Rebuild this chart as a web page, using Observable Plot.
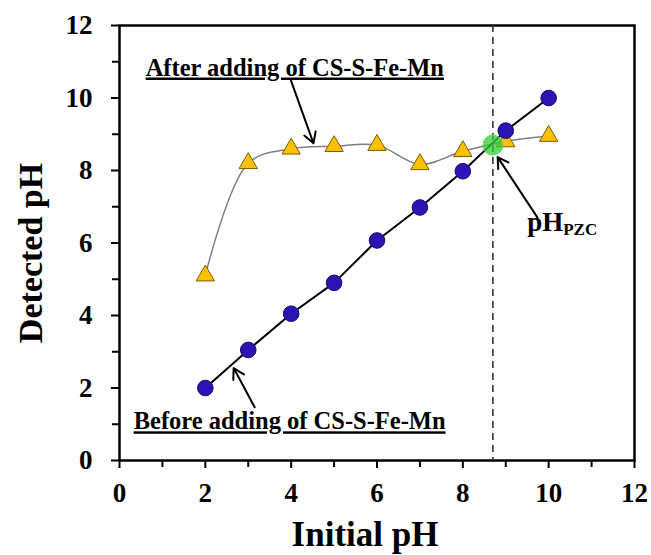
<!DOCTYPE html>
<html>
<head>
<meta charset="utf-8">
<script src="https://cdn.jsdelivr.net/npm/d3@7"></script>
<script src="https://cdn.jsdelivr.net/npm/@observablehq/plot@0.6"></script>
<style>
  html, body { margin: 0; padding: 0; background: #fff; }
  #chart { width: 651px; height: 555px; }
</style>
</head>
<body>
<div id="chart"></div>
<script>
// Initial pH of each test solution
const initialPH = [2, 3, 4, 5, 6, 7, 8, 9, 10];
// Equilibrium pH measured without adsorbent
const beforePH = [2.0, 3.05, 4.05, 4.9, 6.07, 6.98, 7.98, 9.1, 10.0];
// Equilibrium pH measured after adding CS-S-Fe-Mn
const afterPH = [5.1, 8.2, 8.6, 8.67, 8.7, 8.17, 8.53, 8.8, 8.95];
// Point of zero charge (crossing of the two curves)
const pHpzc = 8.7;

const majorTicks = [0, 2, 4, 6, 8, 10, 12];
const minorTicks = [1, 3, 5, 7, 9, 11];

const labelAfter = "After adding of CS-S-Fe-Mn";
const labelBefore = "Before adding of CS-S-Fe-Mn";

const before = initialPH.map((x, i) => ({x, y: beforePH[i]}));
const after = initialPH.map((x, i) => ({x, y: afterPH[i]}));

// Annotation anchors, in pH units
const noteAfter = {x: 0.61, y: 10.62};
const noteBefore = {x: 0.33, y: 0.86};
const notePzc = {x: 9.5, y: 6.33};
const arrows = [
  {x1: 3.99, y1: 10.5, x2: 4.52, y2: 8.75},
  {x1: 3.15, y1: 1.47, x2: 2.66, y2: 2.55},
  {x1: 9.74, y1: 6.7, x2: 8.81, y2: 8.37}
];

const font = "'Liberation Serif', 'Times New Roman', serif";

const chart = Plot.plot({
  width: 651,
  height: 555,
  marginLeft: 119,
  marginRight: 17,
  marginTop: 25,
  marginBottom: 95,
  style: {fontFamily: font, background: "#fff", color: "#000"},
  x: {domain: [0, 12]},
  y: {domain: [0, 12]},
  marks: [
    Plot.frame({stroke: "#000", strokeWidth: 2.5}),
    // minor ticks
    Plot.axisX(minorTicks, {tickSize: 7, tickFormat: () => "", strokeWidth: 2, label: null}),
    Plot.axisY(minorTicks, {tickSize: 7, tickFormat: () => "", strokeWidth: 2, label: null}),
    // major ticks with labels
    Plot.axisX(majorTicks, {tickSize: 8, tickPadding: 14, strokeWidth: 2, fontSize: 27, fontWeight: "bold", label: null}),
    Plot.axisY(majorTicks, {tickSize: 8, tickPadding: 19, strokeWidth: 2, fontSize: 27, fontWeight: "bold", label: null}),
    Plot.text(["Initial pH"], {frameAnchor: "bottom", dx: -12, dy: 85, fontSize: 35, fontWeight: "bold"}),
    Plot.text(["Detected pH"], {frameAnchor: "left", textAnchor: "middle", rotate: -90, dx: -88, dy: 10, fontSize: 34, fontWeight: "bold"}),
    // pH of zero charge
    Plot.ruleX([pHpzc], {stroke: "#333", strokeWidth: 1.6, strokeDasharray: "7,5"}),
    // after adding adsorbent: smoothed grey line with triangles
    Plot.line(after, {x: "x", y: "y", curve: "catmull-rom", stroke: "#7f7f7f", strokeWidth: 1.5}),
    // before adding adsorbent: straight black segments with circles
    Plot.line(before, {x: "x", y: "y", stroke: "#000", strokeWidth: 2}),
    Plot.dot(after, {x: "x", y: "y", symbol: "triangle", r: 6.8, fill: "#ffc000", stroke: "#7a5c00", strokeWidth: 1}),
    Plot.dot(before, {x: "x", y: "y", r: 7.8, fill: "#2a14b4", stroke: "#1a0a70", strokeWidth: 1}),
    Plot.dot([{x: pHpzc, y: pHpzc}], {x: "x", y: "y", r: 10, fill: "#33cc33", fillOpacity: 0.75, stroke: "#66dd66", strokeWidth: 1}),
    // annotations
    Plot.arrow(arrows, {x1: "x1", y1: "y1", x2: "x2", y2: "y2", stroke: "#000", strokeWidth: 2, headLength: 9}),
    Plot.text([labelAfter], {x: noteAfter.x, y: noteAfter.y, textAnchor: "start", lineAnchor: "bottom", fontSize: 24.5, fontWeight: "bold"}),
    Plot.text([labelBefore], {x: noteBefore.x, y: noteBefore.y, textAnchor: "start", lineAnchor: "bottom", fontSize: 24.5, fontWeight: "bold"}),
    Plot.text(["pH"], {x: notePzc.x, y: notePzc.y, textAnchor: "start", lineAnchor: "bottom", fontSize: 27, fontWeight: "bold"}),
    Plot.text(["PZC"], {x: notePzc.x, y: notePzc.y, dx: 36, dy: 4, textAnchor: "start", lineAnchor: "bottom", fontSize: 17, fontWeight: "bold"})
  ]
});

// underline the two series notes
d3.select(chart).selectAll("text")
  .filter(function () { return this.textContent === labelAfter || this.textContent === labelBefore; })
  .attr("text-decoration", "underline");

document.getElementById("chart").appendChild(chart);
</script>
</body>
</html>
